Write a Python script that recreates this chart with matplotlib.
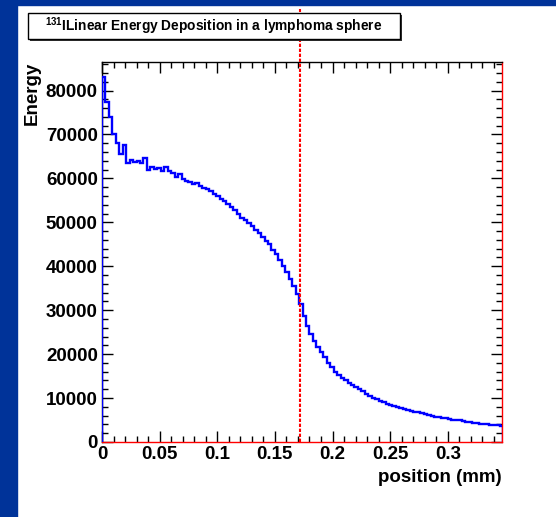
import numpy as np
import matplotlib
matplotlib.use("Agg")
import matplotlib.pyplot as plt
from matplotlib.patches import Rectangle
from matplotlib.ticker import MultipleLocator

plt.rcParams["font.family"] = ["Liberation Sans", "DejaVu Sans"]
plt.rcParams["font.weight"] = "bold"
plt.rcParams["mathtext.fontset"] = "custom"
plt.rcParams["mathtext.bf"] = "Liberation Sans:bold"
plt.rcParams["mathtext.rm"] = "Liberation Sans:bold"

# energy deposited per position bin (bin width 0.003 mm)
bin_width = 0.003
energy = [
    83000, 77500, 74000, 70000, 68000, 65500, 67500, 63500, 64300, 63800,
    64000, 63600, 64600, 62000, 62600, 62200, 62400, 61800, 62700, 61600,
    61300, 60400, 61000, 59800, 59500, 59200, 58800, 58900, 58200, 57800,
    57500, 57100, 56500, 56000, 55400, 54800, 54100, 53600, 52700, 51900,
    51100, 50500, 49900, 49200, 48300, 47600, 46700, 45800, 45000, 43800,
    42700, 41500, 40100, 38600, 37200, 35500, 33700, 31300, 28600, 26500,
    24600, 23000, 21700, 20400, 19300, 18000, 17000, 16000, 15200, 14500,
    14000, 13500, 13000, 12500, 12000, 11500, 11000, 10500, 10000, 9700,
    9400, 9000, 8700, 8400, 8200, 7900, 7800, 7500, 7300, 7100,
    6900, 6800, 6600, 6400, 6200, 6000, 5800, 5600, 5500, 5400,
    5200, 5100, 5000, 4900, 4700, 4600, 4500, 4400, 4300, 4200,
    4100, 4000, 3900, 3800, 3800, 3700,
]
marker_pos = 0.172
x_max = 0.347
y_max = 86500

x_ticks = [0, 0.05, 0.1, 0.15, 0.2, 0.25, 0.3]
x_tick_labels = ["0", "0.05", "0.1", "0.15", "0.2", "0.25", "0.3"]
y_ticks = [0, 10000, 20000, 30000, 40000, 50000, 60000, 70000, 80000]

edges = np.arange(len(energy) + 1) * bin_width

W, H = 556, 517
fig = plt.figure(figsize=(W / 100, H / 100), dpi=100)
ax = fig.add_axes([102 / W, 1 - 442 / H, 400 / W, 380 / H])

# blue slide border (left and top)
fig.patches.append(Rectangle((0, 0), 17 / W, 1, transform=fig.transFigure,
                             color="#003399", zorder=0))
fig.patches.append(Rectangle((0, 1 - 5 / H), 1, 5 / H, transform=fig.transFigure,
                             color="#003399", zorder=0))

ax.stairs(energy, edges, baseline=0, color="#0000ff", lw=1.7, zorder=3)
ax.plot([marker_pos, marker_pos], [0, 98500], color="#ff0000", lw=1.5,
        linestyle=(0, (1.6, 0.8)), clip_on=False, zorder=4)

ax.set_xlim(0, x_max)
ax.set_ylim(0, y_max)
ax.set_xticks(x_ticks)
ax.set_xticklabels(x_tick_labels)
ax.set_yticks(y_ticks)
ax.xaxis.set_minor_locator(MultipleLocator(0.01))
ax.yaxis.set_minor_locator(MultipleLocator(2000))
ax.tick_params(which="both", direction="in", top=True, right=True, labelsize=13.5)
ax.tick_params(which="major", length=8, width=1)
ax.tick_params(which="minor", length=4.5, width=1)
ax.tick_params(axis="x", pad=3)
ax.tick_params(axis="y", pad=3)
for lab in ax.get_xticklabels() + ax.get_yticklabels():
    lab.set_fontweight("bold")

ax.spines["left"].set_color("black")
ax.spines["top"].set_color("black")
ax.spines["bottom"].set_color("#ff0000")
ax.spines["right"].set_color("#ff0000")
for s in ax.spines.values():
    s.set_linewidth(1)

ax.set_xlabel("position (mm)", fontsize=13.5, fontweight="bold", loc="right", labelpad=4)
ax.set_ylabel("Energy", fontsize=13.5, fontweight="bold", loc="top", labelpad=4)

# title box with shadow
bx0, by0, bx1, by1 = 27.7, 12.7, 400, 39.3
fig.patches.append(Rectangle(((bx0 + 2) / W, 1 - (by1 + 2) / H), (bx1 - bx0) / W,
                             (by1 - by0) / H, transform=fig.transFigure,
                             facecolor="#333333", edgecolor="none", zorder=1))
fig.patches.append(Rectangle((bx0 / W, 1 - by1 / H), (bx1 - bx0) / W, (by1 - by0) / H,
                             transform=fig.transFigure, facecolor="white",
                             edgecolor="black", lw=1, zorder=2))
fig.text((bx0 + bx1) / 2 / W, 1 - 26.5 / H,
         r"$^{\mathbf{131}}$ILinear Energy Deposition in a lymphoma sphere",
         ha="center", va="center", fontsize=9.9, fontweight="bold", zorder=3)

fig.savefig("out.png", dpi=100)
